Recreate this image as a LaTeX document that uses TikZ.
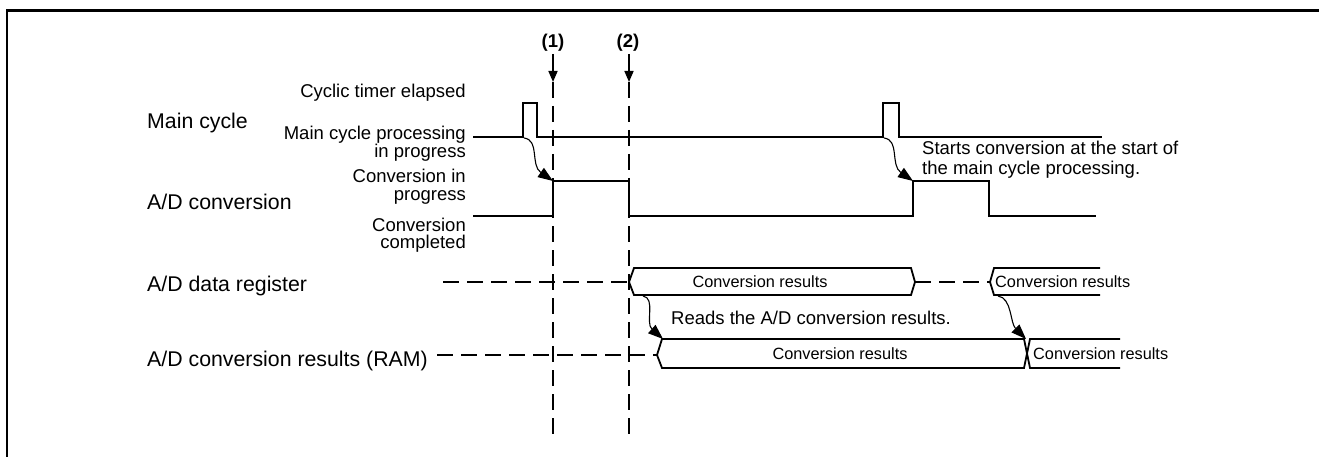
\documentclass[tikz,border=0pt]{standalone}
\usepackage{fontspec}
\setmainfont{Liberation Sans}
\usetikzlibrary{arrows.meta}
\begin{document}
\begin{tikzpicture}[x=1bp,y=-1bp,
  sig/.style={line width=2bp, line join=miter},
  dsh/.style={line width=2.5bp, dash pattern=on 16bp off 8bp},
  bx/.style={line width=1.8bp, line join=miter},
  frm/.style={line width=2.8bp},
  cur/.style={line width=1.1bp, -{Triangle[length=15bp,width=11bp]}},
  varr/.style={line width=1.6bp, -{Triangle[length=11bp,width=9bp]}},
  mainlbl/.style={font=\fontsize{21.3bp}{24bp}\selectfont, inner sep=0pt, anchor=base west},
  sidelbl/.style={font=\fontsize{18.5bp}{20bp}\selectfont, inner sep=0pt, anchor=base east},
  notelbl/.style={font=\fontsize{18.5bp}{20bp}\selectfont, inner sep=0pt, anchor=base west},
  boxlbl/.style={font=\fontsize{16.3bp}{18bp}\selectfont, inner sep=0pt},
  numlbl/.style={font=\bfseries\fontsize{18.5bp}{20bp}\selectfont, inner sep=0pt, anchor=base},
]
\useasboundingbox (0,0) rectangle (1319,457);
\draw[frm] (7,460) -- (7,10.5) -- (1322,10.5);

% row labels
\node[mainlbl] (lmain) at (147,129) {Main cycle};
\node[mainlbl] (lad) at (147,210) {A/D conversion};
\node[mainlbl] (lreg) at (147,292) {A/D data register};
\node[mainlbl] (lram) at (147,366) {A/D conversion results (RAM)};

% state labels
\node[sidelbl] (s1) at (466,98) {Cyclic timer elapsed};
\node[sidelbl] (s2) at (466,140) {Main cycle processing};
\node[sidelbl] (s3) at (466,158) {in progress};
\node[sidelbl] (s4) at (466,183) {Conversion in};
\node[sidelbl] (s5) at (466,201) {progress};
\node[sidelbl] (s6) at (466,232) {Conversion};
\node[sidelbl] (s7) at (466,249) {completed};

% time markers
\node[numlbl] (n1) at (553,48) {(1)};
\node[numlbl] (n2) at (628,48) {(2)};
\coordinate (a1s) at (553,54);
\coordinate (a1e) at (553,82);
\coordinate (a2s) at (629,54);
\coordinate (a2e) at (629,82);
\coordinate (d1e) at (553,442);
\coordinate (d2e) at (629,442);
\draw[varr] (a1s) -- (a1e);
\draw[varr] (a2s) -- (a2e);
\draw[dsh] (a1e) -- (d1e);
\draw[dsh] (a2e) -- (d2e);

% main cycle signal
\draw[sig] (473,137) -- (523,137) -- (523,103) -- (537,103) -- (537,137)
  -- (883,137) -- (883,103) -- (899,103) -- (899,137) -- (1102,137);

% A/D conversion signal
\draw[sig] (473,216) -- (553,216) -- (553,181) -- (629,181) -- (629,216)
  -- (913,216) -- (913,181) -- (989,181) -- (989,216) -- (1096,216);

% A/D data register
\draw[dsh] (443,282) -- (629,282);
\draw[bx] (911,268) -- (634,268) -- (629,282) -- (634,295) -- (911,295) -- (915,282) -- cycle;
\draw[dsh] (915,282) -- (990,282);
\draw[bx] (1100,268) -- (994,268) -- (990,282) -- (994,295) -- (1100,295);
\node[boxlbl, anchor=base] (r1) at (760,288) {Conversion results};
\node[boxlbl, anchor=base west] (r2) at (995,288) {Conversion results};

% RAM
\draw[dsh] (437,355) -- (657,355);
\draw[bx] (1024,339) -- (662,339) -- (657,355) -- (662,368) -- (1024,368) -- (1027,353.5) -- cycle;
\draw[bx] (1120,339) -- (1030,339) -- (1027,353.5) -- (1030,368) -- (1120,368);
\node[boxlbl, anchor=base] (m1) at (840,359) {Conversion results};
\node[boxlbl, anchor=base west] (m2) at (1033,359) {Conversion results};

% notes
\node[notelbl] (t1) at (922,155) {Starts conversion at the start of};
\node[notelbl] (t2) at (922,175) {the main cycle processing.};
\node[notelbl] (t3) at (671,325) {Reads the A/D conversion results.};

% causal arrows
\coordinate (c1s) at (524,138);
\coordinate (c1e) at (553,181);
\coordinate (c2s) at (884,138);
\coordinate (c2e) at (913,181);
\coordinate (c3s) at (643,296);
\coordinate (c3e) at (663,339);
\coordinate (c4s) at (998,296);
\coordinate (c4e) at (1026,339);
\draw[cur] (c1s) .. controls (540,140) and (530,165) .. (c1e);
\draw[cur] (c2s) .. controls (900,140) and (890,165) .. (c2e);
\draw[cur] (c3s) .. controls (656,298) and (645,323) .. (c3e);
\draw[cur] (c4s) .. controls (1012,298) and (1010,323) .. (c4e);
\end{tikzpicture}
\end{document}
